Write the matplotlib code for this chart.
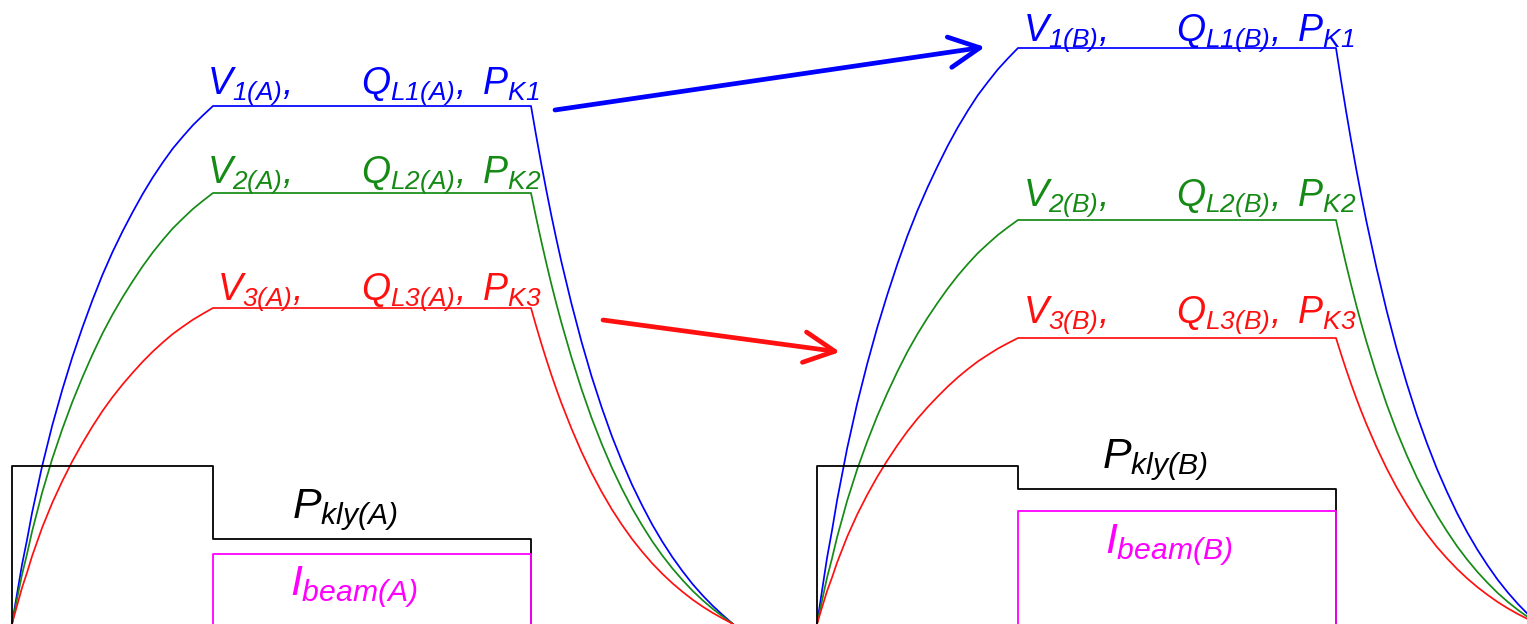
import numpy as np
import matplotlib.pyplot as plt

plt.rcParams['mathtext.fontset'] = 'custom'
plt.rcParams['mathtext.rm'] = 'Liberation Sans:italic'
plt.rcParams['mathtext.it'] = 'Liberation Sans:italic'
plt.rcParams['mathtext.bf'] = 'Liberation Sans:italic'
plt.rcParams['font.family'] = ['Liberation Sans', 'DejaVu Sans']

# pulse timing (arbitrary units)
fill_time = 201
flat_time = 318
decay_time = 202

rise_t = [0, 0.025, 0.05, 0.075, 0.10, 0.125, 0.15, 0.175, 0.20, 0.25, 0.30, 0.35, 0.40,
          0.45, 0.50, 0.55, 0.60, 0.65, 0.70, 0.75, 0.80, 0.85, 0.90, 0.95, 1.0]
rise_v = [0, 0.058, 0.115, 0.163, 0.215, 0.260, 0.305, 0.344, 0.383, 0.452, 0.515, 0.572, 0.625,
          0.674, 0.718, 0.758, 0.795, 0.830, 0.862, 0.891, 0.918, 0.941, 0.963, 0.982, 1.0]
decay_t = [0, 0.025, 0.05, 0.075, 0.10, 0.125, 0.15, 0.20, 0.25, 0.30, 0.35, 0.40,
           0.45, 0.50, 0.55, 0.60, 0.65, 0.70, 0.75, 0.80, 0.85, 0.90, 0.95, 1.0]
decay_v = [1.0, 0.944, 0.890, 0.839, 0.790, 0.744, 0.700, 0.619, 0.545, 0.478, 0.418, 0.363,
           0.314, 0.269, 0.229, 0.192, 0.159, 0.129, 0.102, 0.077, 0.055, 0.035, 0.017, 0]

# flat-top voltages V1, V2, V3 for the two cases
volt_A = [518, 431, 316]
volt_B = [576, 404, 286]

# klystron power: fill level, flat-top level; beam current
kly_A = [158, 85]
kly_B = [158, 135]
beam_A = 70
beam_B = 113

colors = ['#0000ff', '#158a15', '#ff1010']
kly_color = 'black'
beam_color = '#ff00ff'

fig = plt.figure(figsize=(15.27, 6.24), dpi=100)
ax = fig.add_axes([0, 0, 1, 1])
ax.set_xlim(0, 1527)
ax.set_ylim(0, 624)
ax.axis('off')

t_curve = np.concatenate([np.array(rise_t) * fill_time,
                          fill_time + flat_time + np.array(decay_t) * decay_time])
shape = np.concatenate([rise_v, decay_v])
t_end = fill_time + flat_time


def panel(x0, volts, kly, beam, tag, lab):
    for v, c in zip(volts, colors):
        ax.plot(x0 + t_curve, v * shape, color=c, lw=1.25)
    # klystron power
    ax.plot(x0 + np.array([0, 0, fill_time, fill_time, t_end, t_end]),
            [0, kly[0], kly[0], kly[1], kly[1], 0], color=kly_color, lw=1.3)
    # beam current
    ax.plot(x0 + np.array([fill_time, fill_time, t_end, t_end]),
            [0, beam, beam, 0], color=beam_color, lw=1.3)

    vx, qx, rows = lab
    for i, (c, yb) in enumerate(zip(colors, rows)):
        n = i + 1
        ax.text(vx[i], 624 - yb, r'$V_{%d(%s)},$' % (n, tag), color=c,
                fontsize=27, ha='left', va='baseline')
        ax.text(qx[i], 624 - yb, r'$Q_{L%d(%s)},\,\,P_{K%d}$' % (n, tag, n), color=c,
                fontsize=27, ha='left', va='baseline')


# label layout: V x positions, Q x positions, baselines (from top)
panel(12, volt_A, kly_A, beam_A, 'A',
      ([207, 207, 217], [361, 361, 361], [94, 183, 300]))
panel(817, volt_B, kly_B, beam_B, 'B',
      ([1023, 1023, 1023], [1176, 1176, 1176], [41, 206, 323]))

ax.text(292, 624 - 518, r'$P_{kly(A)}$', color=kly_color, fontsize=31,
        ha='left', va='baseline')
ax.text(290, 624 - 595, r'$I_{beam(A)}$', color=beam_color, fontsize=31,
        ha='left', va='baseline')
ax.text(1102, 624 - 468, r'$P_{kly(B)}$', color=kly_color, fontsize=31,
        ha='left', va='baseline')
ax.text(1105, 624 - 553, r'$I_{beam(B)}$', color=beam_color, fontsize=31,
        ha='left', va='baseline')

# arrows from case A to case B
arrow_blue = [(555, 624 - 110), (985, 624 - 47)]
arrow_red = [(603, 624 - 320), (840, 624 - 352)]
for (p0, p1), c in [(arrow_blue, colors[0]), (arrow_red, colors[2])]:
    ax.annotate('', xy=p1, xytext=p0,
                arrowprops=dict(arrowstyle='->,head_length=1.1,head_width=0.55',
                                color=c, lw=3.4, mutation_scale=20,
                                shrinkA=0, shrinkB=0))

fig.savefig('out.png', dpi=100)
